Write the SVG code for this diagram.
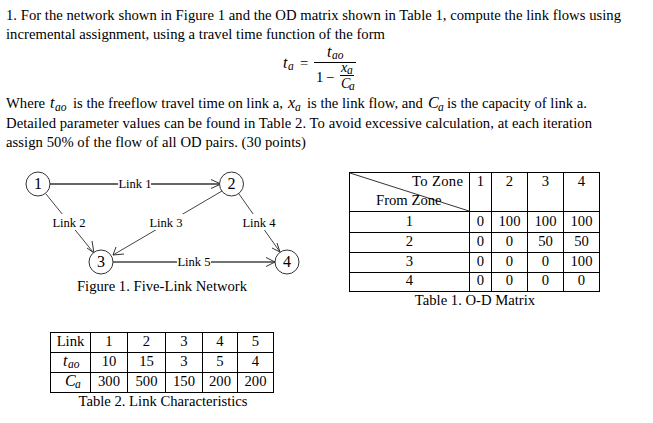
<svg xmlns="http://www.w3.org/2000/svg" width="653" height="423" viewBox="0 0 653 423">
<style>
text{font-family:"Liberation Serif","Times New Roman",serif;font-size:14.67px;fill:#000}
.c{text-anchor:middle}
.m{font-family:"Liberation Serif",serif;font-style:italic;font-size:16px}
.s{font-family:"Liberation Serif",serif;font-style:italic;font-size:11.5px}
.l{font-size:12.6px;text-anchor:middle}
.o{font-size:16px;text-anchor:middle}
.n{fill:#fff;stroke:#333;stroke-width:1}
.e{fill:none;stroke:#444;stroke-width:1}
.b{stroke-width:2;stroke:#666}
.d{stroke:#444;stroke-width:1.5}
.t{fill:none;stroke:#000;stroke-width:1}
.h{fill:none;stroke:#333;stroke-width:1}
</style>
<rect width="653" height="423" fill="#fff"/>
<g id="question">
<text x="6" y="20" textLength="615">1. For the network shown in Figure 1 and the OD matrix shown in Table 1, compute the link flows using</text>
<text x="6" y="39" textLength="379">incremental assignment, using a travel time function of the form</text>
<text x="6" y="108">Where</text><text class="m" x="50" y="108">t</text><text class="s" x="55" y="111">ao</text>
<text x="73" y="108">is the freeflow travel time on link a,</text><text class="m" x="288" y="108">x</text><text class="s" x="295" y="111">a</text>
<text x="307" y="108">is the link flow, and</text><text class="m" x="428" y="108">C</text><text class="s" x="438" y="111">a</text>
<text x="447" y="108">is the capacity of link a.</text>
<text x="6" y="128" textLength="586">Detailed parameter values can be found in Table 2. To avoid excessive calculation, at each iteration</text>
<text x="6" y="147" textLength="300">assign 50% of the flow of all OD pairs. (30 points)</text>
</g>
<g id="formula">
<text class="m" x="283" y="68">t</text><text class="s" x="288" y="70">a</text>
<text x="300" y="68">=</text>
<text class="m" x="327" y="57">t</text><text class="s" x="332" y="59">ao</text>
<line x1="314" y1="62.500" x2="356" y2="62.500" stroke="#000"/>
<text x="316" y="82">1</text><text x="326" y="82">−</text>
<text class="m" x="341" y="72" style="font-size:14px">x</text><text class="s" x="347" y="74">a</text>
<line x1="340" y1="75.500" x2="354" y2="75.500" stroke="#000"/>
<text class="m" x="341" y="88" style="font-size:14px">C</text><text class="s" x="349" y="90">a</text>
</g>
<g id="connectors">
<line class="e b" x1="50" y1="184" x2="220" y2="184"/><path class="h" d="M211 179.500L221 184L211 188.500"/>
<line class="e" x1="46" y1="194" x2="93" y2="252"/><path class="h" d="M87 248L94 253L92 241"/>
<line class="e" x1="222" y1="191" x2="113" y2="255"/><path class="h" d="M116 247L113 255L124 254"/>
<line class="e" x1="239" y1="194" x2="280" y2="252"/><path class="h" d="M277 243L280 252L272 248"/>
<line class="e d" x1="113" y1="262" x2="275" y2="262"/><path class="h" d="M266 257.500L275 262L266 266.500"/>
<g fill="#fff" stroke="none">
<rect x="118" y="176" width="33" height="16"/><rect x="52" y="214" width="35" height="16"/><rect x="149" y="214" width="34" height="16"/><rect x="242" y="214" width="35" height="16"/><rect x="177" y="254" width="34" height="16"/>
</g>
</g>
<g id="link-labels">
<text class="l" x="135" y="188">Link 1</text>
<text class="l" x="69" y="227">Link 2</text>
<text class="l" x="166" y="227">Link 3</text>
<text class="l" x="259" y="227">Link 4</text>
<text class="l" x="194" y="266">Link 5</text>
</g>
<g id="node-1"><circle class="n" cx="38" cy="184" r="12"/><text class="o" x="38" y="189">1</text></g>
<g id="node-2"><circle class="n" cx="231.500" cy="184" r="12"/><text class="o" x="231.500" y="189">2</text></g>
<g id="node-3"><circle class="n" cx="101" cy="262" r="12"/><text class="o" x="101" y="267">3</text></g>
<g id="node-4"><circle class="n" cx="287" cy="262" r="12"/><text class="o" x="287" y="267">4</text></g>
<text id="figure-caption" class="c" x="162" y="291">Figure 1. Five-Link Network</text>
<g id="table-1">
<rect class="t" x="349.500" y="172.500" width="250" height="119"/>
<path class="t" d="M469.500 172.500V291.500M491.500 172.500V291.500M527.500 172.500V291.500M563.500 172.500V291.500M349.500 211.500H599.500M349.500 232.500H599.500M349.500 252.500H599.500M349.500 272.500H599.500"/>
<line x1="350" y1="173" x2="469" y2="211" stroke="#333"/>
<text x="463" y="186" text-anchor="end" textLength="51">To Zone</text>
<text x="376" y="205">From Zone</text>
<text class="c" x="480.500" y="186">1</text><text class="c" x="509.500" y="186">2</text><text class="c" x="545.500" y="186">3</text><text class="c" x="581.500" y="186">4</text>
<text class="c" x="409.500" y="226">1</text><text class="c" x="480.500" y="226">0</text><text class="c" x="509.500" y="226">100</text><text class="c" x="545.500" y="226">100</text><text class="c" x="581.500" y="226">100</text>
<text class="c" x="409.500" y="246">2</text><text class="c" x="480.500" y="246">0</text><text class="c" x="509.500" y="246">0</text><text class="c" x="545.500" y="246">50</text><text class="c" x="581.500" y="246">50</text>
<text class="c" x="409.500" y="266">3</text><text class="c" x="480.500" y="266">0</text><text class="c" x="509.500" y="266">0</text><text class="c" x="545.500" y="266">0</text><text class="c" x="581.500" y="266">100</text>
<text class="c" x="409.500" y="285">4</text><text class="c" x="480.500" y="285">0</text><text class="c" x="509.500" y="285">0</text><text class="c" x="545.500" y="285">0</text><text class="c" x="581.500" y="285">0</text>
<text class="c" x="475" y="305">Table 1. O-D Matrix</text>
</g>
<g id="table-2">
<rect class="t" x="50.500" y="332.500" width="223" height="60"/>
<path class="t" d="M90.500 332.500V392.500M127.500 332.500V392.500M165.500 332.500V392.500M202.500 332.500V392.500M237.500 332.500V392.500M50.500 352.500H273.500M50.500 372.500H273.500"/>
<text class="c" x="70.500" y="346">Link</text><text class="c" x="109" y="346">1</text><text class="c" x="146.500" y="346">2</text><text class="c" x="184" y="346">3</text><text class="c" x="220" y="346">4</text><text class="c" x="255.500" y="346">5</text>
<text class="m" x="63" y="366">t</text><text class="s" x="68" y="368">ao</text><text class="c" x="109" y="366">10</text><text class="c" x="146.500" y="366">15</text><text class="c" x="184" y="366">3</text><text class="c" x="220" y="366">5</text><text class="c" x="255.500" y="366">4</text>
<text class="m" x="65" y="386">C</text><text class="s" x="75" y="388">a</text><text class="c" x="109" y="386">300</text><text class="c" x="146.500" y="386">500</text><text class="c" x="184" y="386">150</text><text class="c" x="220" y="386">200</text><text class="c" x="255.500" y="386">200</text>
<text class="c" x="163" y="405.500">Table 2. Link Characteristics</text>
</g>
</svg>
